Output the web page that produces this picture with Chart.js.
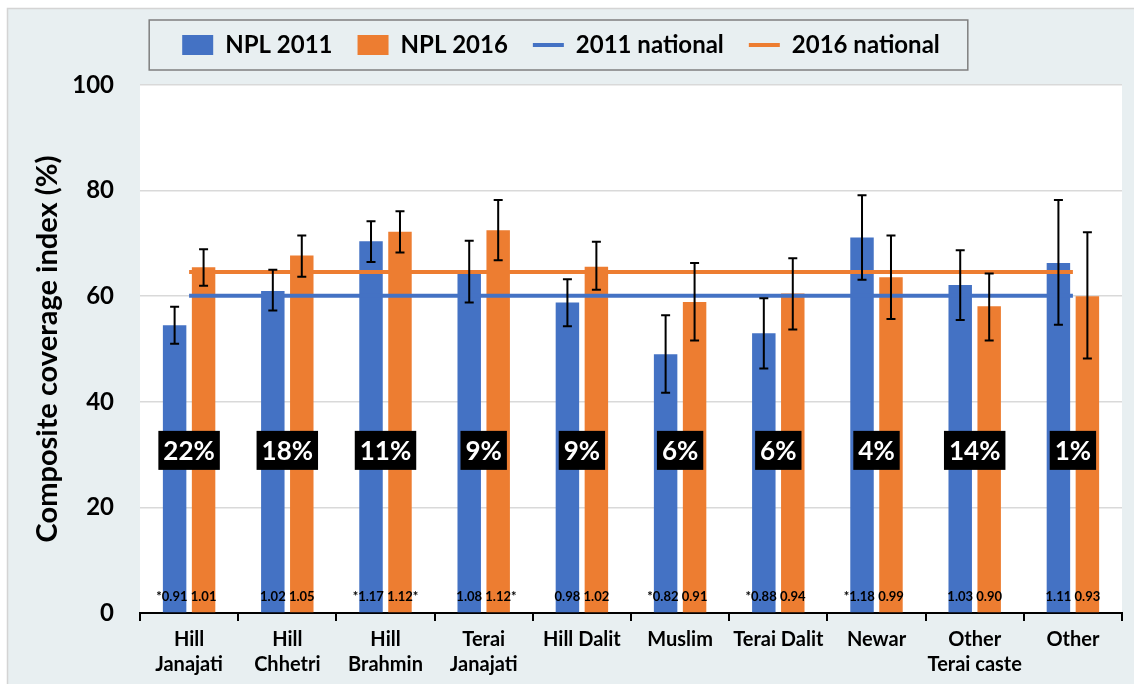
<!DOCTYPE html>
<html>
<head>
<meta charset="utf-8">
<script src="https://cdn.jsdelivr.net/npm/chart.js@4.4.0/dist/chart.umd.min.js"></script>
<style>
  html, body { margin: 0; padding: 0; background: #fff; }
</style>
</head>
<body>
<canvas id="chart" width="1134" height="684"></canvas>
<script>
// groups on the x axis
const categories = [['Hill', 'Janajati'], ['Hill', 'Chhetri'], ['Hill', 'Brahmin'], ['Terai', 'Janajati'],
  'Hill Dalit', 'Muslim', 'Terai Dalit', 'Newar', ['Other', 'Terai caste'], 'Other'];

// composite coverage index (%) with 95% CI
const npl2011 = [54.5, 61.0, 70.4, 64.2, 58.8, 49.0, 53.0, 71.1, 62.1, 66.3];
const npl2011Low = [51.0, 57.3, 66.5, 58.8, 54.3, 41.7, 46.3, 63.1, 55.5, 54.6];
const npl2011High = [58.0, 65.0, 74.2, 70.5, 63.2, 56.4, 59.6, 79.1, 68.7, 78.2];
const npl2016 = [65.5, 67.7, 72.2, 72.5, 65.6, 58.9, 60.5, 63.6, 58.1, 60.0];
const npl2016Low = [62.0, 63.7, 68.3, 66.8, 61.2, 51.6, 53.7, 55.7, 51.6, 48.2];
const npl2016High = [68.9, 71.5, 76.1, 78.2, 70.3, 66.3, 67.2, 71.5, 64.3, 72.1];

// national averages
const national2011 = 60.1;
const national2016 = 64.6;

// share of population and ratio to national
const shareLabels = ['22%', '18%', '11%', '9%', '9%', '6%', '6%', '4%', '14%', '1%'];
const ratio2011 = ['*0.91', '1.02', '*1.17', '1.08', '0.98', '*0.82', '*0.88', '*1.18', '1.03', '1.11'];
const ratio2016 = ['1.01', '1.05', '1.12*', '1.12*', '1.02', '0.91', '0.94', '0.99', '0.90', '0.93'];

const yMin = 0, yMax = 100, yStep = 20;

const FONT = 'Lato, "Open Sans", sans-serif';
const BLUE = '#4472C4';
const ORANGE = '#ED7D31';

const framePlugin = {
  id: 'frame',
  afterInit(chart) {
    // leave some room between the legend and the plot
    const lg = chart.legend;
    if (lg) {
      const fit = lg.fit;
      lg.fit = function () { fit.call(this); this.height += 18; };
    }
  },
  beforeDraw(chart) {
    const { ctx, chartArea: a } = chart;
    ctx.save();
    ctx.fillStyle = '#e8eff1';
    ctx.fillRect(8, 9, chart.width - 8, chart.height - 9);
    ctx.strokeStyle = '#d4d4d4';
    ctx.lineWidth = 1.5;
    ctx.strokeRect(7.5, 8.5, chart.width, chart.height);
    ctx.fillStyle = '#fff';
    ctx.fillRect(a.left, a.top, a.right - a.left, a.bottom - a.top);
    ctx.restore();
  },
  afterDraw(chart) {
    // box around the legend
    const boxes = chart.legend.legendHitBoxes;
    if (!boxes || !boxes.length) return;
    const first = boxes[0], last = boxes[boxes.length - 1];
    const cy = first.top + first.height / 2;
    const ctx = chart.ctx;
    ctx.save();
    ctx.strokeStyle = '#7f7f7f';
    ctx.lineWidth = 1.5;
    ctx.strokeRect(first.left - 33, cy - 25, last.left + last.width - first.left + 61, 50);
    ctx.restore();
  }
};

const errorBarPlugin = {
  id: 'errorBars',
  afterDatasetsDraw(chart) {
    const { ctx } = chart;
    const ys = chart.scales.y;
    const sets = [[0, npl2011Low, npl2011High], [1, npl2016Low, npl2016High]];
    ctx.save();
    ctx.strokeStyle = '#000';
    ctx.lineWidth = 2;
    sets.forEach(([di, lo, hi]) => {
      chart.getDatasetMeta(di).data.forEach((bar, i) => {
        const top = ys.getPixelForValue(hi[i]);
        const bot = ys.getPixelForValue(lo[i]);
        ctx.beginPath();
        ctx.moveTo(bar.x, top); ctx.lineTo(bar.x, bot);
        ctx.moveTo(bar.x - 4.5, top); ctx.lineTo(bar.x + 4.5, top);
        ctx.moveTo(bar.x - 4.5, bot); ctx.lineTo(bar.x + 4.5, bot);
        ctx.stroke();
      });
    });
    ctx.restore();
  }
};

const labelPlugin = {
  id: 'groupLabels',
  afterDraw(chart) {
    const { ctx } = chart;
    const xs = chart.scales.x, ys = chart.scales.y;
    ctx.save();
    // population share boxes
    ctx.font = 'bold 26px ' + FONT;
    ctx.textAlign = 'center';
    ctx.textBaseline = 'middle';
    const boxY = ys.getPixelForValue(30.8);
    shareLabels.forEach((t, i) => {
      const x = xs.getPixelForValue(i);
      const w = ctx.measureText(t).width + 10;
      ctx.fillStyle = '#000';
      ctx.fillRect(x - w / 2, boxY - 19.5, w, 39);
      ctx.fillStyle = '#fff';
      ctx.fillText(t, x, boxY + 1);
    });
    // ratio labels at the bar foot
    ctx.font = 'bold 13px ' + FONT;
    const ry = ys.getPixelForValue(3);
    [[0, ratio2011], [1, ratio2016]].forEach(([di, arr]) => {
      chart.getDatasetMeta(di).data.forEach((bar, i) => {
        const raw = arr[i];
        const num = raw.replace('*', '');
        const w = ctx.measureText(num).width;
        ctx.fillStyle = '#000';
        ctx.textAlign = 'center';
        ctx.fillText(num, bar.x, ry);
        if (raw.startsWith('*')) {
          ctx.textAlign = 'right';
          ctx.fillText('*', bar.x - w / 2, ry);
        } else if (raw.endsWith('*')) {
          ctx.textAlign = 'left';
          ctx.fillText('*', bar.x + w / 2, ry);
        }
      });
    });
    ctx.restore();
  }
};

new Chart(document.getElementById('chart').getContext('2d'), {
  data: {
    labels: categories,
    datasets: [
      {
        type: 'bar', label: 'NPL 2011', data: npl2011,
        backgroundColor: BLUE, borderWidth: 0, pointStyle: 'rect',
        categoryPercentage: 0.59, barPercentage: 0.81, order: 1
      },
      {
        type: 'bar', label: 'NPL 2016', data: npl2016,
        backgroundColor: ORANGE, borderWidth: 0, pointStyle: 'rect',
        categoryPercentage: 0.59, barPercentage: 0.81, order: 1
      },
      {
        type: 'line', label: '2011 national', data: categories.map(() => national2011),
        borderColor: BLUE, backgroundColor: BLUE, borderWidth: 4,
        pointRadius: 0, pointStyle: 'line', order: 0
      },
      {
        type: 'line', label: '2016 national', data: categories.map(() => national2016),
        borderColor: ORANGE, backgroundColor: ORANGE, borderWidth: 4,
        pointRadius: 0, pointStyle: 'line', order: 0
      }
    ]
  },
  options: {
    responsive: false,
    animation: false,
    devicePixelRatio: 1,
    layout: { padding: { top: 8, right: 12, left: 0, bottom: 0 } },
    plugins: {
      tooltip: { enabled: false },
      legend: {
        position: 'top',
        labels: {
          usePointStyle: true,
          pointStyleWidth: 31,
          boxHeight: 20,
          padding: 25,
          color: '#000',
          font: { family: FONT, size: 24, weight: 'bold' },
          sort: (a, b) => a.datasetIndex - b.datasetIndex
        }
      }
    },
    scales: {
      x: {
        grid: { drawOnChartArea: false, drawTicks: true, tickLength: 8, color: '#000', lineWidth: 2, offset: true },
        border: { display: true, color: '#000', width: 2 },
        ticks: { color: '#000', font: { family: FONT, size: 20, weight: 'bold', lineHeight: 1.25 }, padding: 6, maxRotation: 0, autoSkip: false },
        afterFit: (s) => { s.height = 71; }
      },
      y: {
        min: yMin, max: yMax,
        grid: { color: '#d9d9d9', lineWidth: 1.5, drawTicks: false },
        border: { display: false },
        ticks: { stepSize: yStep, color: '#000', padding: 26, font: { family: FONT, size: 24, weight: 'bold' } },
        title: {
          display: true, text: 'Composite coverage index (%)', color: '#000',
          font: { family: FONT, size: 29, weight: 'bold' }, padding: { top: 30, bottom: 0 }
        },
        afterFit: (s) => { s.width = 140; }
      }
    }
  },
  plugins: [framePlugin, errorBarPlugin, labelPlugin]
});
</script>
</body>
</html>
